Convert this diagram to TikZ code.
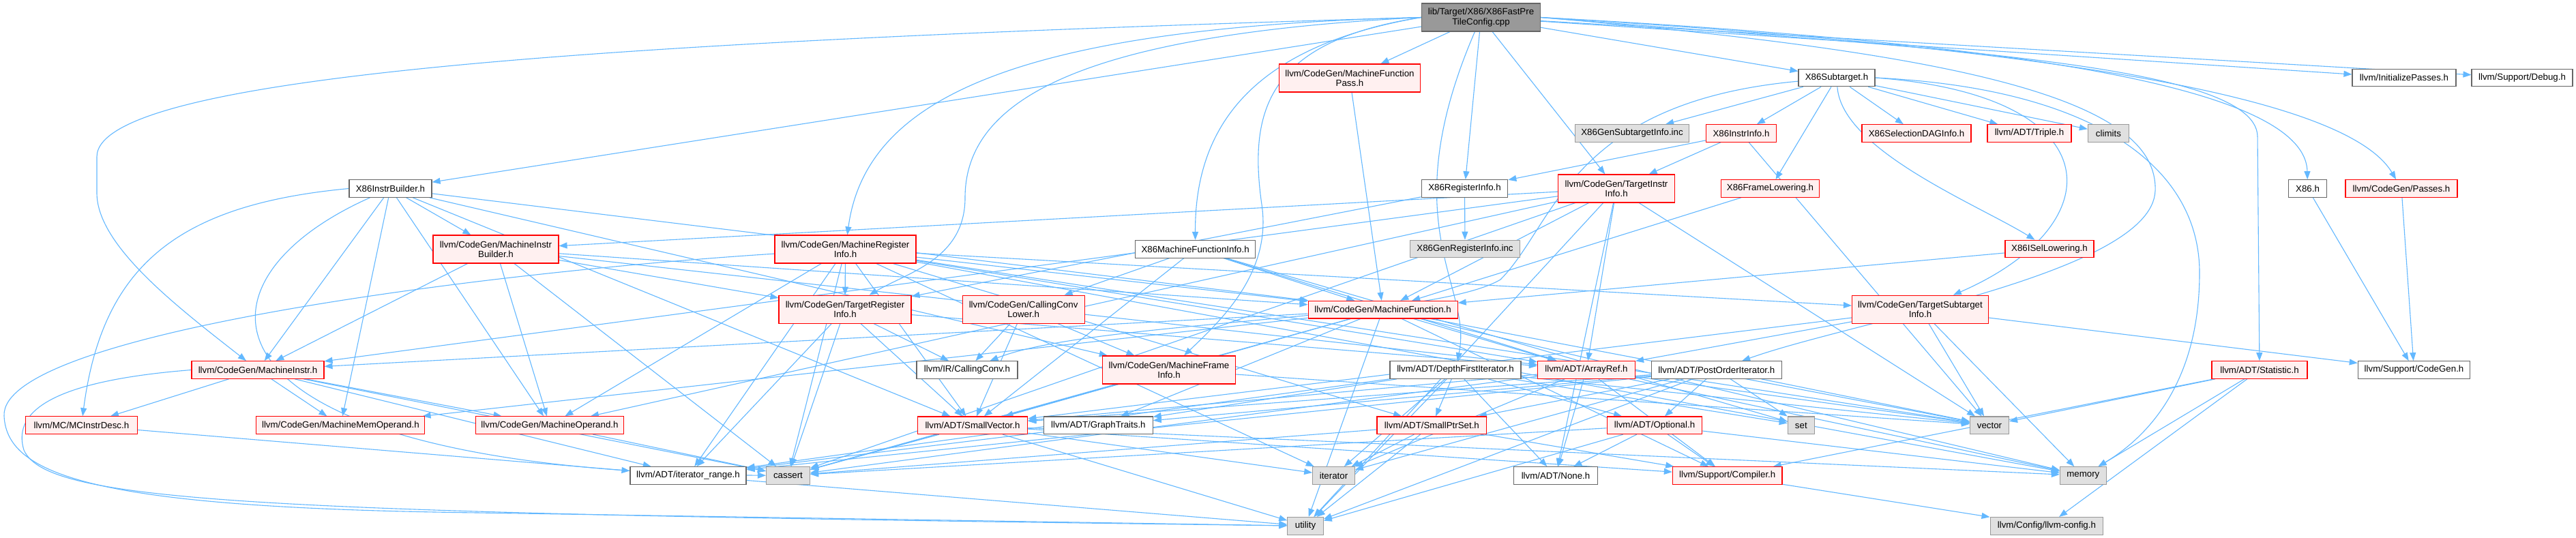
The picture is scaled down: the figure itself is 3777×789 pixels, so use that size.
\documentclass[tikz,border=0pt]{standalone}
\usepackage{fontspec}
\setmainfont{Liberation Sans}
\usetikzlibrary{arrows.meta}
\pgfdeclarelayer{bg}
\pgfsetlayers{bg,main}
\definecolor{edgec}{HTML}{63B8FF}
\definecolor{docb}{HTML}{666666}
\definecolor{sysf}{HTML}{E0E0E0}
\definecolor{sysb}{HTML}{999999}
\definecolor{truf}{HTML}{FFF0F0}
\definecolor{rootf}{HTML}{999999}
\begin{document}
\begin{tikzpicture}[x=1pt,y=-1pt,
  base/.style={rectangle, draw, line width=1.1pt, inner xsep=2pt, inner ysep=1pt, align=center,
    font=\fontsize{13.3}{14.3}\selectfont, minimum height=25.6pt},
  docn/.style={base, draw=docb, fill=white},
  sysn/.style={base, draw=sysb, fill=sysf},
  trun/.style={base, draw=red, fill=truf},
  rootn/.style={base, draw=docb, fill=rootf},
  two/.style={minimum height=41pt},
  dep/.style={draw=edgec, line width=1.1pt, -{Triangle[length=12pt,width=9pt]}}]
\useasboundingbox (0,0) rectangle (3777,789);
% row 1
\node[rootn,two,minimum width=174pt] (R) at (2171.5,25.5) {lib/Target/X86/X86FastPre\\TileConfig.cpp};
% row 2
\node[trun,two,minimum width=207pt] (MFP) at (1979,114.5) {llvm/CodeGen/MachineFunction\\Pass.h};
\node[docn,minimum width=112pt] (XS) at (2693,114) {X86Subtarget.h};
\node[docn,minimum width=152pt] (IP) at (3525,114) {llvm/InitializePasses.h};
\node[docn,minimum width=148pt] (DBG) at (3698,114) {llvm/Support/Debug.h};
% row 3
\node[sysn,minimum width=167pt] (GSI) at (2393,195.5) {X86GenSubtargetInfo.inc};
\node[trun,minimum width=103.5pt] (XII) at (2553,195.5) {X86InstrInfo.h};
\node[trun,minimum width=160pt] (SDAG) at (2810,195.5) {X86SelectionDAGInfo.h};
\node[trun,minimum width=123pt] (TRP) at (2975.5,195.5) {llvm/ADT/Triple.h};
\node[sysn,minimum width=60pt] (CLM) at (3091.4,195.5) {climits};
% row 4
\node[docn,minimum width=121pt] (IB) at (572.5,276.5) {X86InstrBuilder.h};
\node[docn,minimum width=126.5pt] (XRI) at (2147.5,276.5) {X86RegisterInfo.h};
\node[trun,two,minimum width=171pt] (TII) at (2370,276.5) {llvm/CodeGen/TargetInstr\\Info.h};
\node[trun,minimum width=144.5pt] (XFL) at (2595.5,276.5) {X86FrameLowering.h};
\node[docn,minimum width=56pt] (X86) at (3383.5,276.5) {X86.h};
\node[trun,minimum width=164pt] (PAS) at (3521,276.5) {llvm/CodeGen/Passes.h};
% row 5
\node[trun,two,minimum width=184pt] (MIB) at (727,365.5) {llvm/CodeGen/MachineInstr\\Builder.h};
\node[trun,two,minimum width=207pt] (MRI) at (1239.5,365.5) {llvm/CodeGen/MachineRegister\\Info.h};
\node[docn,minimum width=176pt] (XMFI) at (1752.6,365.3) {X86MachineFunctionInfo.h};
\node[sysn,minimum width=161pt] (GRI) at (2148,365) {X86GenRegisterInfo.inc};
\node[trun,minimum width=130pt] (XISL) at (3005,365) {X86ISelLowering.h};
% row 6
\node[trun,two,minimum width=194pt] (TRI) at (1239,453.7) {llvm/CodeGen/TargetRegister\\Info.h};
\node[trun,two,minimum width=179pt] (CCL) at (1500.6,453.7) {llvm/CodeGen/CallingConv\\Lower.h};
\node[trun,minimum width=219pt] (MF) at (2027.6,454.2) {llvm/CodeGen/MachineFunction.h};
\node[trun,two,minimum width=200pt] (TSI) at (2815.5,453.7) {llvm/CodeGen/TargetSubtarget\\Info.h};
% row 7
\node[trun,minimum width=194pt] (MI) at (378,542.5) {llvm/CodeGen/MachineInstr.h};
\node[docn,minimum width=148pt] (CC) at (1418,542.5) {llvm/IR/CallingConv.h};
\node[trun,two,minimum width=195pt] (MFI) at (1714,542.5) {llvm/CodeGen/MachineFrame\\Info.h};
\node[docn,minimum width=192pt] (DFI) at (2134,542.5) {llvm/ADT/DepthFirstIterator.h};
\node[trun,minimum width=143pt] (AR) at (2326,542.5) {llvm/ADT/ArrayRef.h};
\node[docn,minimum width=191pt] (POI) at (2516.8,542.5) {llvm/ADT/PostOrderIterator.h};
\node[trun,minimum width=140pt] (STA) at (3313,542.5) {llvm/ADT/Statistic.h};
\node[docn,minimum width=164.5pt] (SCG) at (3539.5,542.5) {llvm/Support/CodeGen.h};
% row 8
\node[trun,minimum width=163.6pt] (MCID) at (119.4,623.7) {llvm/MC/MCInstrDesc.h};
\node[trun,minimum width=247pt] (MMO) at (499.4,623.7) {llvm/CodeGen/MachineMemOperand.h};
\node[trun,minimum width=217.6pt] (MO) at (806,623.7) {llvm/CodeGen/MachineOperand.h};
\node[trun,minimum width=161.6pt] (SV) at (1426,623.8) {llvm/ADT/SmallVector.h};
\node[docn,minimum width=159.6pt] (GT) at (1610.4,623.8) {llvm/ADT/GraphTraits.h};
\node[trun,minimum width=160.8pt] (SPS) at (2099.4,623.8) {llvm/ADT/SmallPtrSet.h};
\node[trun,minimum width=139.6pt] (OPT) at (2426,623.8) {llvm/ADT/Optional.h};
\node[sysn,minimum width=39.2pt] (SET) at (2640.8,623.8) {set};
\node[sysn,minimum width=57pt] (VEC) at (2917,623.8) {vector};
% row 9
\node[docn,minimum width=170pt] (ITR) at (1009,697.5) {llvm/ADT/iterator\_range.h};
\node[sysn,minimum width=64pt] (CAS) at (1155.5,697.5) {cassert};
\node[sysn,minimum width=61.6pt] (ITE) at (1955.5,697.5) {iterator};
\node[docn,minimum width=122.4pt] (NON) at (2281,697.5) {llvm/ADT/None.h};
\node[trun,minimum width=160.6pt] (CMP) at (2532.7,697.5) {llvm/Support/Compiler.h};
\node[sysn,minimum width=67.8pt] (MEM) at (3054.3,697.5) {memory};
% row 10
\node[sysn,minimum width=52.4pt] (UT) at (1914,771.3) {utility};
\node[sysn,minimum width=165.7pt] (CFG) at (3000.9,771.3) {llvm/Config/llvm-config.h};

\begin{pgfonlayer}{bg}
\fill[white] (0,0) rectangle (3777,789);
% root
\draw[dep] (R.west) .. controls (900,60) and (142,110) .. (142,230) -- (142,283) .. controls (142,360) and (260,450) .. (MI);
\draw[dep] (R.west) .. controls (1500,40) and (1270,140) .. (MRI);
\draw[dep] (R.west) .. controls (1600,50) and (1415,140) .. (1415,290) .. controls (1415,380) and (1330,400) .. (TRI);
\draw[dep] (R.west) .. controls (1820,70) and (1752,200) .. (XMFI);
\draw[dep] (R.west) .. controls (1860,60) and (1830,160) .. (1850,300) .. controls (1865,400) and (1790,470) .. (MFI);
\draw[dep] (R) .. controls (2040,330) and (2160,420) .. (DFI);
\draw[dep] (R.east) .. controls (2900,80) and (3165,150) .. (3160,280) .. controls (3155,400) and (2720,470) .. (POI);
\draw[dep] (R.east) .. controls (2800,70) and (3308,90) .. (3310,200) -- (STA);
\draw[dep] (R.east) .. controls (2900,60) and (3380,120) .. (X86);
\draw[dep] (R.east) .. controls (3000,70) and (3440,140) .. (PAS);
\foreach \t in {IB,MFP,XRI,TII,XS,IP,DBG} \draw[dep] (R) -- (\t);
% X86InstrBuilder
\draw[dep] (IB.west) .. controls (260,300) and (150,390) .. (MCID);
\draw[dep] (IB) .. controls (250,420) and (280,690) .. (CAS);
\foreach \t in {MI,MIB,MMO,MO,SV,MF,MFI} \draw[dep] (IB) -- (\t);
% MachineInstrBuilder
\foreach \t in {AR,MF,MI,MO,TRI,CAS} \draw[dep] (MIB) -- (\t);
% MachineRegisterInfo
\draw[dep] (MRI) .. controls (700,400) and (0,490) .. (6,610) .. controls (10,700) and (150,745) .. (700,752) -- (UT);
\foreach \t in {AR,SPS,SV,ITR,MF,MO,TRI,TSI,CAS,ITE,MEM,VEC} \draw[dep] (MRI) -- (\t);
% X86MachineFunctionInfo
\foreach \t in {AR,SV,CCL,MF,SET} \draw[dep] (XMFI) -- (\t);
% X86RegisterInfo
\foreach \t in {TRI,GRI} \draw[dep] (XRI) -- (\t);
% X86Subtarget
\draw[dep] (XS) .. controls (2300,150) and (2280,330) .. (2200,410) .. controls (2100,470) and (1600,470) .. (CC);
\draw[dep] (XS.east) .. controls (3080,130) and (3225,250) .. (3225,400) .. controls (3225,560) and (3150,640) .. (MEM);
\draw[dep] (XS.east) .. controls (3100,140) and (3100,330) .. (TSI);
\draw[dep] (XS) .. controls (2700,220) and (2900,300) .. (XISL);
\foreach \t in {XFL,XII,SDAG,TRP,CLM,GSI} \draw[dep] (XS) -- (\t);
% X86InstrInfo
\foreach \t in {XRI,TII,VEC} \draw[dep] (XII) -- (\t);
\draw[dep] (XFL) -- (MF);
\draw[dep] (XISL) -- (MF);
\draw[dep] (MFP) -- (MF);
% TargetInstrInfo
\foreach \t in {AR,NON,MF,MI,MIB,MO,CAS,UT,VEC} \draw[dep] (TII) -- (\t);
% TargetRegisterInfo
\foreach \t in {AR,SV,ITR,CC,CAS} \draw[dep] (TRI) -- (\t);
% CallingConvLower
\foreach \t in {SV,MFI,CC} \draw[dep] (CCL) -- (\t);
% MachineFunction
\foreach \t in {AR,GT,SV,MI,MMO,CMP,CAS,MEM,UT,VEC} \draw[dep] (MF) -- (\t);
% TargetSubtargetInfo
\foreach \t in {AR,SV,SCG,MEM,VEC} \draw[dep] (TSI) -- (\t);
% MachineInstr
\draw[dep] (MI.west) .. controls (60,560) and (20,610) .. (35,660) .. controls (70,740) and (400,752) .. (UT);
\foreach \t in {ITR,MMO,MO,MCID,CAS} \draw[dep] (MI) -- (\t);
% MachineFrameInfo
\foreach \t in {SV,CAS,VEC} \draw[dep] (MFI) -- (\t);
% DepthFirstIterator
\foreach \t in {GT,NON,OPT,SPS,ITR,ITE,SET,UT,VEC} \draw[dep] (DFI) -- (\t);
% ArrayRef
\foreach \t in {NON,SV,CMP,CAS,ITE,MEM,VEC} \draw[dep] (AR) -- (\t);
% PostOrderIterator
\foreach \t in {GT,OPT,SPS,SV,ITR,ITE,SET,UT,VEC} \draw[dep] (POI) -- (\t);
% Statistic
\foreach \t in {CFG,CMP,MEM,VEC} \draw[dep] (STA) -- (\t);
\draw[dep] (X86) -- (SCG);
\draw[dep] (PAS) -- (SCG);
% SmallVector
\foreach \t in {CMP,CAS,ITE,MEM,UT} \draw[dep] (SV) -- (\t);
% SmallPtrSet
\foreach \t in {CMP,CAS,ITE,UT} \draw[dep] (SPS) -- (\t);
% Optional
\foreach \t in {NON,CMP,CAS,MEM,UT} \draw[dep] (OPT) -- (\t);
\draw[dep] (CMP) -- (CFG);
\draw[dep] (ITR) -- (UT);
\draw[dep] (GT) -- (ITR);
\draw[dep] (MO) -- (CAS);
\draw[dep] (MCID) -- (ITR);
\end{pgfonlayer}
\end{tikzpicture}
\end{document}
